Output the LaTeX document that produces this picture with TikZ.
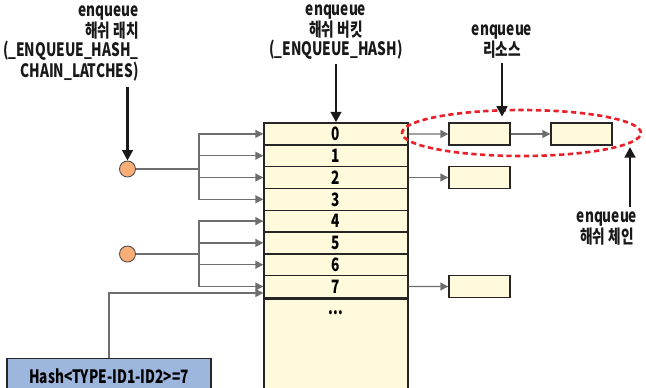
\documentclass[tikz,border=0pt]{standalone}
\usepackage{fontspec}
\newfontfamily\kfont[FakeStretch=0.74]{Noto Sans CJK KR}
\usetikzlibrary{arrows.meta,shapes.geometric}
\definecolor{cellfill}{HTML}{FFFADC}
\definecolor{hashfill}{HTML}{9DB6DE}
\definecolor{latchfill}{HTML}{F9AE78}
\definecolor{linkgray}{HTML}{6E6E6E}
\definecolor{chainred}{HTML}{E8202A}
\begin{document}
\begin{tikzpicture}[x=0.02cm,y=-0.02cm,
  font=\kfont\bfseries\fontsize{10.5}{11}\selectfont,
  cell/.style={draw=black!85,line width=0.8pt,fill=cellfill,minimum width=2.88cm,minimum height=0.436cm,inner sep=0pt},
  resbox/.style={draw=black!85,line width=0.8pt,fill=cellfill,minimum width=1.22cm,minimum height=0.44cm,inner sep=0pt},
  latch/.style={circle,draw=black!70,line width=0.5pt,fill=latchfill,minimum size=0.32cm,inner sep=0pt},
  link/.style={draw=linkgray,line width=0.7pt,-{Triangle[length=4.5pt,width=4.5pt]}},
  bigarrow/.style={draw=black!90,line width=1.7pt,-{Triangle[length=6pt,width=6pt]}},
  caption/.style={inner sep=0pt,align=center,text=black!90}]
\useasboundingbox (0,0) rectangle (646,387);
% hash bucket table
\foreach \i in {0,...,7}
  \node[cell] (r\i) at (336,{133.9+21.8*\i}) {\i};
\node[cell,anchor=north,minimum height=1.9cm] (rest) at (r7.south) {};
\node at (336,313) {...};
% hash chain latches
\node[latch] (c1) at (127.5,169) {};
\node[latch] (c2) at (127.5,254) {};
\coordinate (br) at (199,0);
\foreach \i in {0,...,3}
  \draw[link] (c1.east) -- (c1.east -| br) |- (r\i.west);
\foreach \i in {4,...,7}
  \draw[link] (c2.east) -- (c2.east -| br) |- (r\i.west);
% hash value
\node[draw=black!85,line width=0.8pt,fill=hashfill,minimum width=4.08cm,minimum height=0.7cm,inner sep=0pt] (hash) at (109,376) {Hash<TYPE-ID1-ID2>=7};
\draw[link] (hash.north) |- ([yshift=-0.13cm]r7.west);
% resources
\node[resbox] (res1) at (479.5,134) {};
\node[resbox] (res2) at (581.5,134) {};
\node[resbox] (res3) at (479.5,177.5) {};
\node[resbox] (res4) at (479.5,286.5) {};
\draw[link] (r0.east) -- (res1.west);
\draw[link] (res1.east) -- (res2.west);
\draw[link] (r2.east) -- (res3.west);
\draw[link] (r7.east) -- (res4.west);
% hash chain
\node[ellipse,draw=chainred,line width=1.5pt,dash pattern=on 3pt off 2pt,minimum width=4.78cm,minimum height=0.92cm] (chain) at (521.5,133) {};
\coordinate (chaintip) at (630,147);
% captions
\node[caption,align=right,anchor=south east] (lbl1) at (139,82) {enqueue\\해쉬 래치\\(\_ENQUEUE\_HASH\_\\CHAIN\_LATCHES)};
\node[caption,anchor=south] (lbl2) at (336,60) {enqueue\\해쉬 버킷\\(\_ENQUEUE\_HASH)};
\node[caption,anchor=south] (lbl3) at (502,59) {enqueue\\리소스};
\node[caption,anchor=north] (lbl4) at (607,211) {enqueue\\해쉬 체인};
\draw[bigarrow] ([yshift=-0.1cm]lbl1.south -| c1) -- (c1.north);
\draw[bigarrow] ([yshift=-0.08cm]lbl2.south) -- (r0.north);
\draw[bigarrow] ([yshift=-0.08cm]lbl3.south) -- ([yshift=-0.16cm]lbl3.south |- chain.north);
\draw[bigarrow] ([yshift=0.08cm]lbl4.north -| chaintip) -- (chaintip);
\end{tikzpicture}
\end{document}
